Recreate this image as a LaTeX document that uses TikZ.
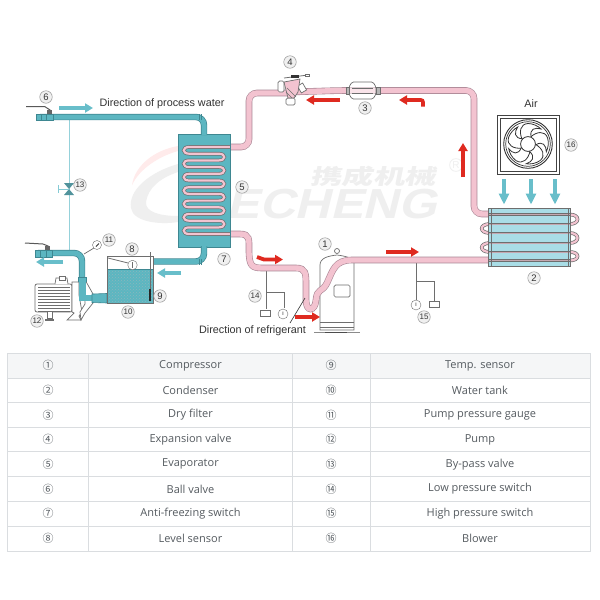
\documentclass[tikz,border=0pt]{standalone}
\usepackage{fontspec}
\setmainfont{Liberation Sans}
\newfontfamily\tabfont{Open Sans}
\newfontfamily\circfont{Noto Sans CJK SC}
\newfontfamily\cjkfont{Noto Sans CJK SC}
\usetikzlibrary{arrows.meta,patterns}
\definecolor{wat}{HTML}{5CB6C1}
\definecolor{watd}{HTML}{3E8791}
\definecolor{arw}{HTML}{68BECA}
\definecolor{pnk}{HTML}{F3C3D0}
\definecolor{pnkd}{HTML}{A98694}
\definecolor{redd}{HTML}{DF2A20}
\definecolor{gry}{HTML}{6E6E6E}
\definecolor{tabl}{HTML}{DADDE0}
\definecolor{tabt}{HTML}{555B60}
\definecolor{tabh}{HTML}{F5F6F7}
\definecolor{wm}{HTML}{EFEFEF}
\definecolor{cond}{HTML}{A9DDE6}
\tikzset{
 refpipe/.style={draw=pnkd,double=pnk,double distance=5.4pt,line width=.6pt,rounded corners=8pt},
 coilpipe/.style={draw=gry,double=pnk,double distance=2.2pt,line width=.7pt},
 watpipe/.style={draw=watd,double=wat,double distance=5pt,line width=.7pt,rounded corners=8pt},
 waterarrow/.style={draw=arw,line width=3.4pt,-{Triangle[length=8pt,width=9pt]}},
 airarrow/.style={draw=arw,line width=3.6pt,-{Triangle[length=11pt,width=10pt]}},
 redarrow/.style={draw=redd,line width=3.6pt,-{Triangle[length=8pt,width=9pt]}},
 partline/.style={draw=gry,line width=.7pt},
 lab/.style={circle,draw=gry!70,fill=gray!12,line width=.5pt,inner sep=0pt,minimum size=12.5pt,font=\fontsize{9.5}{10}\selectfont,text=black!80},
 labs/.style={lab,font=\fontsize{8}{9}\selectfont},
 captxt/.style={font=\fontsize{10.8}{12}\selectfont,text=black!80},
 celltxt/.style={font=\tabfont\fontsize{11}{13}\selectfont,text=tabt},
 numtxt/.style={font=\circfont\fontsize{11}{13}\selectfont,text=tabt},
}
\begin{document}
\begin{tikzpicture}[x=1pt,y=-1pt]
\useasboundingbox (0,0) rectangle (600,600);
\fill[white] (0,0) rectangle (600,600);
% watermark
\fill[wm] (178,164) .. controls (150,172) and (128,190) .. (131,208) .. controls (133,222) and (160,225) .. (178,222) -- (178,216) .. controls (160,216) and (145,212) .. (146,202) .. controls (148,188) and (160,178) .. (178,172) -- cycle;
\fill[red!8] (178,146) .. controls (155,150) and (135,165) .. (132,185) .. controls (140,168) and (160,156) .. (178,151) -- cycle;
\node[text=wm,inner sep=0pt,xslant=.25,xscale=1.17,transform shape,font=\bfseries\fontsize{42}{42}\selectfont] (wmlatin) at (335,204) {ECHENG};
\node[text=wm,inner sep=0pt,xslant=.2,xscale=1.5,transform shape,font=\cjkfont\bfseries\fontsize{21}{21}\selectfont] (wmcjk) at (375,176) {携成机械};
\node[circle,draw=wm,text=wm,inner sep=1pt,line width=.8pt,font=\fontsize{10}{10}\selectfont] (wmr) at (456,165) {R};
% bypass line
\draw[draw=arw!70,line width=.7pt] (69.5,120) -- (69.5,250);
% water pipes
\fill[wat,draw=watd,line width=.7pt] (178,134) rectangle (230,247);
\draw[watpipe] (40,117) -- (204,117) -- (204,135);
\draw[partline,draw=watd,line width=.5pt] (199,114) -- (199,120) (201,114) -- (201,120);
\draw[watpipe] (204,246) -- (204,261.5) -- (153,261.5);
\draw[partline,draw=watd,line width=.5pt] (199,259) -- (199,265) (201,259) -- (201,265);
\draw[watpipe] (38,253) -- (82,253) -- (82,298) -- (100,298);
% ball valve top
\fill[wat,draw=watd,line width=.7pt] (36,114) rectangle (53,120.5);
\draw[partline,line width=.7pt,draw=watd] (41,114) -- (41,120.5) (46,114) -- (46,120.5);
\draw[partline,line width=1pt,draw=black!65] (26,106.7) -- (45,106.7) -- (50,110) -- (50,114);
\fill[black!60] (47,110) rectangle (52,114);
% ball valve bottom
\fill[wat,draw=watd,line width=.7pt] (35,250) rectangle (52,257);
\draw[partline,line width=.7pt,draw=watd] (40,250) -- (40,257) (46,250) -- (46,257);
\draw[partline,line width=1pt,draw=black!65] (25,243) -- (43,244) -- (48,246) -- (48,250);
\fill[black!60] (45,246) rectangle (50,250);
% bypass valve
\fill[watd!90] (64,183) -- (74,183) -- (64,195) -- (74,195) -- cycle;
\draw[partline,draw=arw!80] (58,185) -- (58,193) (58,189) -- (69,189);
% gauge 11
\draw[partline] (84,254) -- (94,248);
\node[circle,draw=gry,fill=white,inner sep=0pt,minimum size=9pt] (gauge) at (97,245) {};
\draw[black!80,line width=1pt] (96,246.5) -- (99,243.5);
% motor
\fill[white,draw=gry,line width=.8pt,rounded corners=2pt] (35,284) rectangle (72,312);
\foreach \y in {287,290,...,311}{\draw[gry,line width=.8pt] (38,\y) -- (70,\y);}
\draw[partline,fill=white] (55,284) -- (56,278) -- (67,278) -- (68,284);
\draw[partline,fill=white] (59,276) rectangle (65,280);
\draw[partline,fill=white] (47,312) -- (47,318) -- (52,318) -- (52,312);
\draw[partline,line width=1.2pt] (45,320) -- (54,320);
\draw[partline,fill=white] (72,282) -- (79,282) -- (79,295) -- (82,312) -- (79,316) -- (81,320) -- (67,320) -- (74,313) -- (72,312) -- cycle;
\draw[partline,fill=white] (84,278) -- (93,294) -- (93,303) -- (85,313) -- (81,320) -- (80,312) -- (85,304) -- cycle;
\fill[wat,draw=watd,line width=.5pt] (78,277) rectangle (86,281);
\fill[wat] (78.5,281) rectangle (85.5,301);
\fill[wat] (84,295) -- (92,295) -- (92,301) -- (84,301) -- cycle;
\fill[wat,draw=watd,line width=.6pt] (92,294) -- (93,294) -- (107,293.5) -- (107,303) -- (92,302.5) -- cycle;
% tank
\fill[wat] (107,269) rectangle (153,303);
\path[pattern=crosshatch dots,pattern color=watd!60] (107,269) rectangle (153,303);
\draw[watd,line width=.8pt] (107,269) -- (153,269);
\draw[partline] (107,256) -- (153,256);
\draw[partline,line width=.9pt] (107,256) -- (107,303) -- (153,303) -- (153,256);
\draw[partline,line width=.8pt] (108,258) -- (128,263);
\node[circle,draw=gry,fill=white,inner sep=0pt,minimum size=9.5pt] (float) at (132.5,265) {};
\draw[gry,line width=.5pt] (132.5,262) -- (132.5,268);
\draw[gry,line width=.7pt] (150,252) -- (150,290);
\draw[black!85,line width=1.6pt] (150,289) -- (150,301);
% coil in evaporator
\draw[coilpipe,rounded corners=0pt]
 (240,147) -- (189,147)
 .. controls (182,147) and (182,153.7) .. (189,153.7) -- (219,153.7)
 .. controls (226,153.7) and (226,160.4) .. (219,160.4) -- (189,160.4)
 .. controls (182,160.4) and (182,167.1) .. (189,167.1) -- (219,167.1)
 .. controls (226,167.1) and (226,173.8) .. (219,173.8) -- (189,173.8)
 .. controls (182,173.8) and (182,180.5) .. (189,180.5) -- (219,180.5)
 .. controls (226,180.5) and (226,187.2) .. (219,187.2) -- (189,187.2)
 .. controls (182,187.2) and (182,193.9) .. (189,193.9) -- (219,193.9)
 .. controls (226,193.9) and (226,200.6) .. (219,200.6) -- (189,200.6)
 .. controls (182,200.6) and (182,207.3) .. (189,207.3) -- (219,207.3)
 .. controls (226,207.3) and (226,214) .. (219,214) -- (189,214)
 .. controls (182,214) and (182,220.7) .. (189,220.7) -- (219,220.7)
 .. controls (226,220.7) and (226,227.4) .. (219,227.4) -- (189,227.4)
 .. controls (182,227.4) and (182,234) .. (189,234) -- (240,234);
% switches
\draw[partline,line width=1pt] (266,268) -- (266,309) (266,292) -- (284,292) -- (284,308);
\draw[partline,line width=1pt] (416,262) -- (416,300) (416,281) -- (434,281) -- (434,301);
\node[draw=gry,fill=white,inner sep=0pt,minimum width=10pt,minimum height=6pt] (lps) at (265,313) {};
\node[draw=gry,fill=white,inner sep=0pt,minimum width=10pt,minimum height=6pt] (hps) at (434,304) {};
\node[circle,draw=gry,fill=white,inner sep=0pt,minimum size=10pt,font=\fontsize{5}{5}\selectfont] (lpg) at (283,314) {I};
\node[circle,draw=gry,fill=white,inner sep=0pt,minimum size=10pt,font=\fontsize{5}{5}\selectfont] (hpg) at (416,305) {I};
% compressor
\draw[partline,fill=white] (320,330) -- (320,265) .. controls (320,258) and (328,256) .. (337,255) .. controls (345,256) and (354,258) .. (354,263) -- (354,330) -- cycle;
\draw[partline] (320,322) -- (354,322) (320,327) -- (354,327);
\draw[partline,fill=white,rounded corners=1.5pt] (334,285) rectangle (350,297);
\draw[partline,fill=white] (337,251) circle (2.5);
\draw[gry!80,line width=1.6pt] (314,332.5) -- (360,332.5);
\draw[black!70,line width=1.4pt] (325,332.5) -- (347,332.5);
% refrigerant pipes
\draw[refpipe] (230,147) -- (249,147) -- (249,93) -- (290,93);
\draw[refpipe] (290,92) -- (340,90.5) -- (474,90.5) -- (474,214) -- (490,214);
\draw[refpipe,rounded corners=0pt] (230,234) -- (240,234) .. controls (250,234) and (249,240) .. (249,250) .. controls (249,266) and (252,268) .. (262,268) -- (296,268) .. controls (306,268) and (306,274) .. (306,285) -- (306,300) .. controls (306,312) and (315,312) .. (316,300) .. controls (317,288) and (322,293) .. (327,283) .. controls (333,270) and (335,260) .. (352,260) -- (490,260);
% evaporator frame over pipes
\draw[watd,line width=.7pt] (230,134) -- (230,247);
% expansion valve
\draw[partline,fill=white,rounded corners=1.5pt] (278,81) rectangle (284,92);
\draw[partline,fill=white,rounded corners=1.5pt] (286,98) rectangle (295,105);
\draw[partline,fill=white,rotate around={30:(302,88)}] (299,84) rectangle (305,92);
\draw[partline,fill=pnk] (284,82) -- (300,79) -- (298,92) -- (294,98) -- (288,98) -- cycle;
\draw[gry,line width=.6pt] (287,88) -- (296,97) (286,92) -- (292,98);
\draw[partline,line width=.8pt] (284,78) -- (308,75);
\fill[black!80] (291,75) rectangle (299,78);
\node[draw=gry,fill=white,inner sep=0pt,minimum width=3.5pt,minimum height=2.5pt] (evtip) at (307,75) {};
% dry filter
\fill[pnk] (345,88) rectangle (381,93);
\draw[partline,fill=white,fill opacity=.55,rounded corners=1.5pt] (349,87) -- (352,82) -- (373,82) -- (376,87) -- (376,94) -- (373,99) -- (352,99) -- (349,94) -- cycle;
\draw[partline,fill=gry!50] (346,87) rectangle (349,94);
\draw[partline,fill=gry!50] (376,87) rectangle (380,94);
\draw[partline,line width=.5pt] (352,88) -- (373,88) (352,93) -- (373,93);
% condenser
\draw[coilpipe] (570,214.5) .. controls (580,214.5) and (580,224) .. (570,224);
\draw[coilpipe] (570,233) .. controls (580,233) and (580,243) .. (570,243);
\draw[coilpipe] (570,252) .. controls (580,252) and (580,260.5) .. (570,260.5);
\draw[coilpipe] (490,224) .. controls (479,224) and (479,233) .. (490,233);
\draw[coilpipe] (490,243) .. controls (479,243) and (479,252) .. (490,252);
\path[fill=cond,draw=gry,line width=.9pt] (488.5,208.5) rectangle (570,266);
\foreach \y in {214.5,224,233,243,252,260.5}{\draw[gry,line width=2.4pt] (489,\y) -- (570,\y);\draw[pnk!60!gray,line width=.8pt] (489,\y) -- (570,\y);}
\draw[gry,line width=.8pt] (491,208.5) -- (491,266) (568,208.5) -- (568,266);
% fan
\draw[gry!60!black,line width=1pt,fill=white] (497.5,115.5) rectangle (559,174);
\draw[gry!60!black,line width=.7pt] (500.5,118.5) rectangle (556,171);
\draw[black!80,line width=.9pt] (528,144) circle (24.3);
\draw[black!80,line width=.7pt] (528,144) circle (22.3);
\foreach \a in {0,72,144,216,288}{
 \begin{scope}[shift={(528,144)},rotate=\a]
  \draw[black!80,line width=.8pt] (-6,-5) .. controls (-9,-12) and (-8,-20) .. (0,-20.5) .. controls (5,-20.5) and (10,-18) .. (13,-15) .. controls (7,-17) and (1,-15) .. (3.3,-6.7);
 \end{scope}}
\draw[black!80,line width=.8pt,fill=white] (528,144) circle (7.4);
% arrows
\coordinate (w1a) at (59,108); \coordinate (w1b) at (93,108);
\draw[waterarrow] (w1a) -- (w1b);
\coordinate (w2a) at (63,262); \coordinate (w2b) at (36,262);
\draw[waterarrow] (w2a) -- (w2b);
\coordinate (w3a) at (181,273); \coordinate (w3b) at (157,273);
\draw[waterarrow] (w3a) -- (w3b);
\foreach \x in {504,531,555}{\draw[airarrow] (\x,179) -- (\x,204.5);}
\draw[redarrow] (340,100) -- (306,100);
\draw[redarrow,rounded corners=2pt] (423,106.5) -- (423,100) -- (399,100);
\draw[redarrow] (463,177) -- (463,143);
\draw[redarrow] (386,252) -- (419,252);
\draw[redarrow] (295,317) -- (320,317);
\draw[redarrow,line width=3.8pt] (257,257) -- (264,259.5) -- (283,259.5);
\draw[black!80,line width=.6pt] (290,323) -- (305,298);
% captions
\node[captxt,inner sep=0pt] (capwater) at (162,103.5) {Direction of process water};
\node[captxt,inner sep=0pt] (capref) at (252.5,331) {Direction of refrigerant};
\node[captxt,inner sep=0pt] (capair) at (531,104) {Air};
% labels
\node[lab] (l1) at (325,244) {1};
\node[lab] (l2) at (534,278) {2};
\node[lab] (l3) at (365,108) {3};
\node[lab] (l4) at (290,62) {4};
\node[lab] (l5) at (242,187) {5};
\node[lab] (l6) at (46,97) {6};
\node[lab] (l7) at (224,259) {7};
\node[lab] (l8) at (132,249) {8};
\node[lab] (l9) at (160,296) {9};
\node[labs] (l10) at (128,312) {10};
\node[labs] (l11) at (109,240) {11};
\node[labs] (l12) at (37,321) {12};
\node[labs] (l13) at (80,185) {13};
\node[labs] (l14) at (255,296) {14};
\node[labs] (l15) at (424,317) {15};
\node[labs] (l16) at (571,145) {16};
% table
\fill[tabh] (7,353.5) rectangle (590,378);
\draw[tabl,line width=.8pt] (7,353.5) rectangle (590,551.5);
\foreach \y in {378,402.5,427.3,451.8,476.4,501.3,526.2}{\draw[tabl,line width=.8pt] (7,\y) -- (590,\y);}
\foreach \x in {88.5,292.5,370}{\draw[tabl,line width=.8pt] (\x,353.5) -- (\x,551.5);}
\foreach \y/\a/\b/\c/\d [count=\n] in {
 365.8/①/Compressor/⑨/Temp. sensor,
 390.3/②/Condenser/⑩/Water tank,
 414.9/③/Dry filter/⑪/Pump pressure gauge,
 439.6/④/Expansion valve/⑫/Pump,
 464.2/⑤/Evaporator/⑬/By-pass valve,
 489/⑥/Ball valve/⑭/Low pressure switch,
 513.8/⑦/Anti-freezing switch/⑮/High pressure switch,
 538.8/⑧/Level sensor/⑯/Blower}{
 \node[numtxt] (na\n) at (48,\y) {\a};
 \node[celltxt] (ta\n) at (190.5,\y) {\b};
 \node[numtxt] (nb\n) at (331,\y) {\c};
 \node[celltxt] (tb\n) at (480,\y) {\d};
}
\end{tikzpicture}
\end{document}
